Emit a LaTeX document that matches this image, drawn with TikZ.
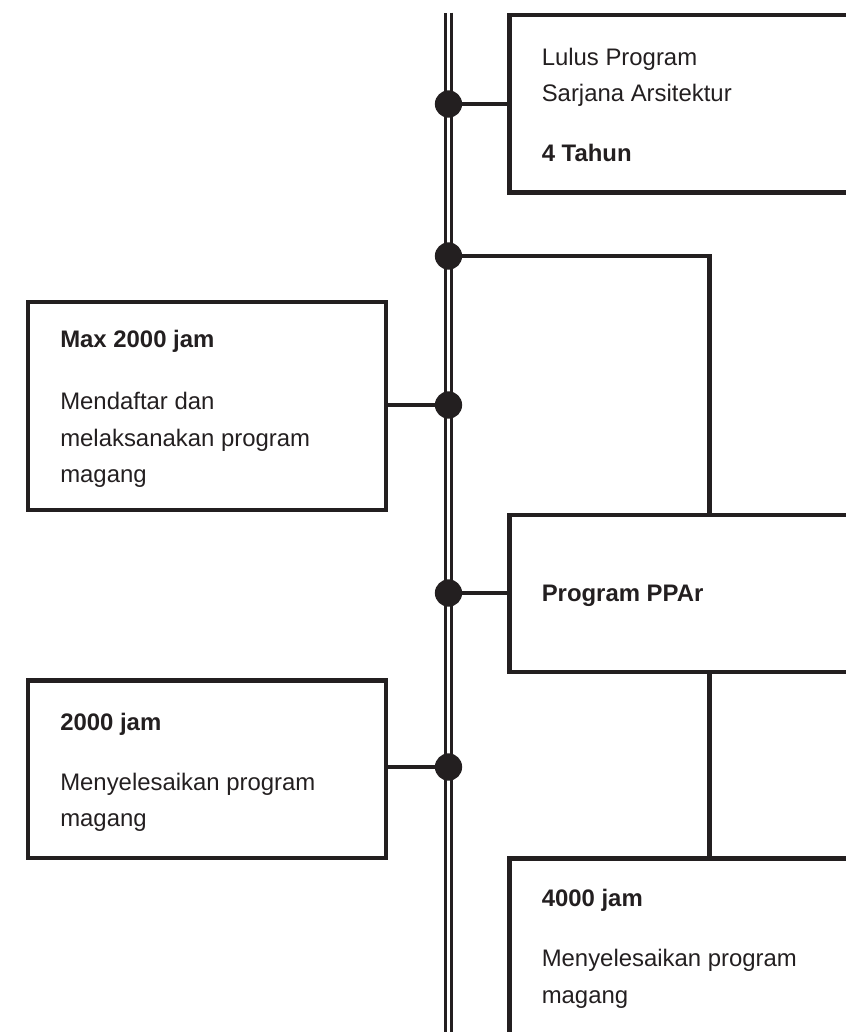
\documentclass[tikz,border=0pt]{standalone}
\usepackage{fontspec}
\setmainfont{Liberation Sans}
\definecolor{ink}{HTML}{231F20}
\tikzset{
  box/.style={draw=ink, line width=3.1pt, inner sep=0pt, outer sep=0pt, anchor=north west},
  dot/.style={circle, fill=ink, inner sep=0pt, minimum size=19.4pt},
  link/.style={draw=ink, line width=3.1pt},
  txt/.style={anchor=base west, inner sep=0pt, align=left, text=ink,
    font=\fontsize{17pt}{26pt}\selectfont},
  txtb/.style={txt, font=\fontsize{17pt}{26pt}\selectfont\bfseries}
}
\begin{document}
\begin{tikzpicture}[x=0.025cm, y=-0.025cm]
\useasboundingbox (0,0) rectangle (846,1032);
\clip (0,0) rectangle (846,1032);

% Timeline spine
\coordinate (spinetop) at (448.5,12.5);
\coordinate (spineend) at (448.5,1045);
\draw[ink, line width=1.9pt, double=white, double distance=1.9pt] (spinetop) -- (spineend);

% Boxes
\node[box, minimum width=12.5cm, minimum height=4.44cm] (lulus) at (509.5,15) {};
\node[box, minimum width=8.94cm, minimum height=5.2cm] (daftar) at (28,302) {};
\node[box, minimum width=12.5cm, minimum height=3.93cm] (ppar) at (509.5,515) {};
\node[box, minimum width=8.94cm, minimum height=4.43cm] (selesai) at (28,680.5) {};
\node[box, minimum width=12.5cm, minimum height=7.5cm] (selesaippar) at (509.5,858.5) {};

% Dots on the spine
\node[dot] (d1) at (448.5,104) {};
\node[dot] (d2) at (448.5,256) {};
\node[dot] (d3) at (448.5,405) {};
\node[dot] (d4) at (448.5,593) {};
\node[dot] (d5) at (448.5,767) {};

% Joints of the PPAr branch
\coordinate (ja) at (709.5,515);
\coordinate (jb) at (709.5,672);
\coordinate (jc) at (709.5,858.5);

% Connectors
\draw[link] (d1) -- (d1 -| lulus.west);
\draw[link] (d2.center) -| (ja);
\draw[link] (d3) -- (d3 -| daftar.east);
\draw[link] (d4) -- (d4 -| ppar.west);
\draw[link] (d5) -- (d5 -| selesai.east);
\draw[link] (jb) -- (jc);

% Texts (base = baseline of the last line)
\node[txt] (t1) at (541.5,101.7) {Lulus Program\\Sarjana Arsitektur};
\node[txtb] (t2) at (541.5,161.7) {4 Tahun};
\node[txtb] (t3) at (60,347) {Max 2000 jam};
\node[txt] (t4) at (60,482.7) {Mendaftar dan\\melaksanakan program\\magang};
\node[txtb] (t5) at (541.5,601.7) {Program PPAr};
\node[txtb] (t6) at (60,730) {2000 jam};
\node[txt] (t7) at (60,826.7) {Menyelesaikan program\\magang};
\node[txtb] (t8) at (541.5,906) {4000 jam};
\node[txt] (t9) at (541.5,1003) {Menyelesaikan program\\magang};
\end{tikzpicture}
\end{document}
